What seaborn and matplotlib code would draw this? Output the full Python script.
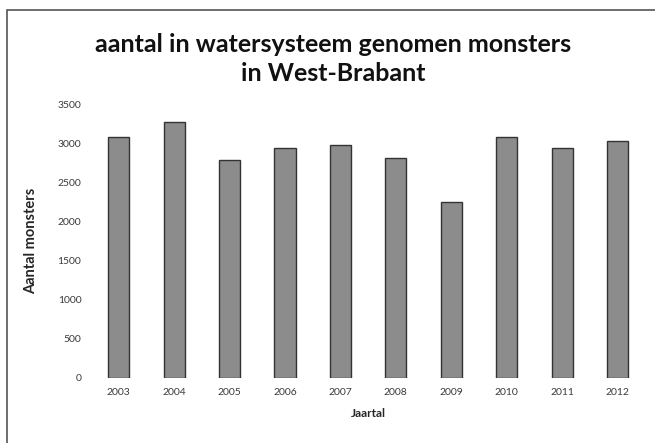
import matplotlib
matplotlib.use("Agg")
import matplotlib.pyplot as plt
import seaborn as sb
import pandas as pd
from matplotlib.patches import Rectangle

# jaar en aantal monsters
years = ["2003", "2004", "2005", "2006", "2007", "2008", "2009", "2010", "2011", "2012"]
samples = [3080, 3270, 2780, 2945, 2975, 2805, 2245, 3085, 2935, 3030]
yticks = [0, 500, 1000, 1500, 2000, 2500, 3000, 3500]

df = pd.DataFrame({"Jaartal": years, "Aantal monsters": samples})

sb.set_theme(style="white")
plt.rcParams['font.family'] = ['Lato', 'DejaVu Sans']

fig = plt.figure(figsize=(6.55, 4.43), dpi=100)
ax = fig.add_axes([0.139, 0.147, 0.846, 0.618])

sb.barplot(data=df, x="Jaartal", y="Aantal monsters", color="#8c8c8c",
           width=0.38, edgecolor="#333333", linewidth=1.0, saturation=1, ax=ax)

ax.set_ylim(0, 3500)
ax.set_yticks(yticks)
ax.set_yticklabels([str(t) for t in yticks])
ax.tick_params(axis="both", labelsize=7.5, colors="#3a3a3a", length=0, pad=7)
for s in ax.spines.values():
    s.set_visible(False)

ax.set_xlabel("Jaartal", fontsize=8.5, fontweight="bold", labelpad=8)
ax.set_ylabel("Aantal monsters", fontsize=10.5, fontweight="bold", labelpad=14)

fig.text(0.509, 0.900, "aantal in watersysteem genomen monsters", ha="center", va="center",
         fontsize=18, fontweight="bold", color="#111111")
fig.text(0.509, 0.835, "in West-Brabant", ha="center", va="center",
         fontsize=18, fontweight="bold", color="#111111")

# kader rond de grafiek (links en boven zichtbaar)
fig.patches.append(Rectangle((7 / 655, -0.05), 1.1, 1 - 10 / 443 + 0.05, transform=fig.transFigure,
                             fill=False, edgecolor="#555555", linewidth=1.2))

fig.savefig("out.png", dpi=100)
